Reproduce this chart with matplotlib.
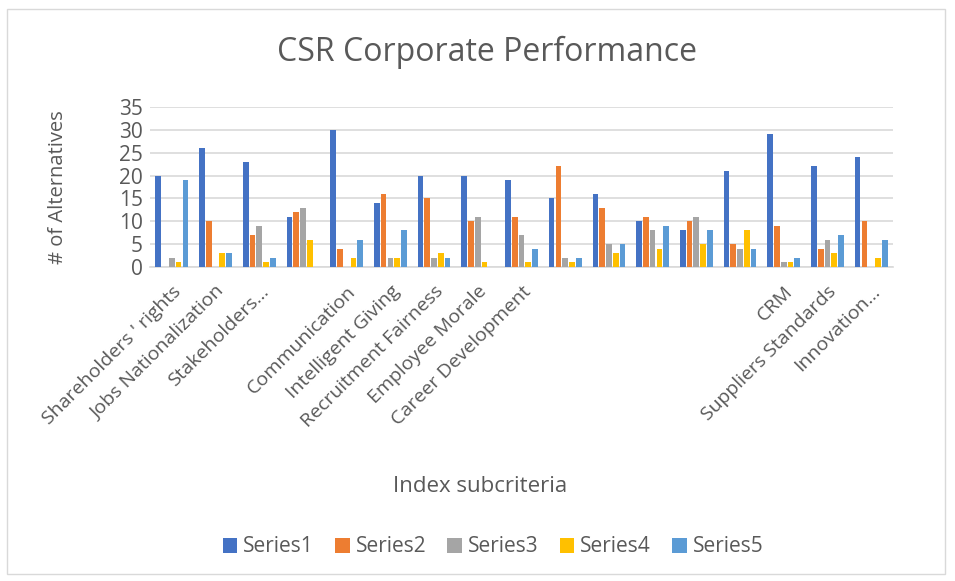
import numpy as np
import matplotlib.pyplot as plt
from matplotlib.patches import Rectangle

plt.rcParams['font.family'] = ['Open Sans', 'DejaVu Sans']

# categories (several have empty names in the source chart)
categories = ["Shareholders ' rights", "Jobs Nationalization", "Stakeholders...", "",
              "Communication", "Intelligent Giving", "Recruitment Fairness",
              "Employee Morale", "Career Development", "", "", "", "", "",
              "CRM", "Suppliers Standards", "Innovation..."]

series1 = [20, 26, 23, 11, 30, 14, 20, 20, 19, 15, 16, 10, 8, 21, 29, 22, 24]
series2 = [0, 10, 7, 12, 4, 16, 15, 10, 11, 22, 13, 11, 10, 5, 9, 4, 10]
series3 = [2, 0, 9, 13, 0, 2, 2, 11, 7, 2, 5, 8, 11, 4, 1, 6, 0]
series4 = [1, 3, 1, 6, 2, 2, 3, 1, 1, 1, 3, 4, 5, 8, 1, 3, 2]
series5 = [19, 3, 2, 0, 6, 8, 2, 0, 4, 2, 5, 9, 8, 4, 2, 7, 6]

series_names = ["Series1", "Series2", "Series3", "Series4", "Series5"]
colors = ["#4472C4", "#ED7D31", "#A5A5A5", "#FFC000", "#5B9BD5"]
text_color = "#595959"

fig = plt.figure(figsize=(9.55, 5.81), dpi=100)
W, H = 955, 581
ax = fig.add_axes([150 / W, 1 - 267 / H, (893 - 150) / W, (267 - 107) / H])

# chart border
fig.patches.append(Rectangle((7 / W, 1 - 574 / H), 938 / W, 565 / H,
                             transform=fig.transFigure, fill=False,
                             edgecolor="#d9d9d9", linewidth=1))

x = np.arange(len(categories))
step = 0.155
width = 0.13
all_series = [series1, series2, series3, series4, series5]
for i, vals in enumerate(all_series):
    ax.bar(x + (i - 2) * step, vals, width, color=colors[i], label=series_names[i],
           zorder=3)

ax.set_xlim(-0.5, len(categories) - 0.5)
ax.set_ylim(0, 35)
ax.set_yticks(range(0, 36, 5))
ax.grid(axis="y", color="#d9d9d9", linewidth=1.2, zorder=0)
for s in ["top", "right", "left"]:
    ax.spines[s].set_visible(False)
ax.spines["bottom"].set_color("#d9d9d9")
ax.spines["bottom"].set_linewidth(1.2)
ax.tick_params(axis="both", length=0, colors=text_color)
ax.tick_params(axis="y", pad=5, labelsize=15)

ax.set_xticks(x)
ax.set_xticklabels(categories, rotation=45, ha="right", rotation_mode="anchor",
                   fontsize=14, color=text_color)
ax.tick_params(axis="x", pad=11)

ax.set_ylabel("# of Alternatives", fontsize=14.5, color=text_color)
ax.yaxis.set_label_coords((68 - 150) / 743, 0.5)

fig.text(487 / W, 1 - 52 / H, "CSR Corporate Performance", ha="center", va="center",
         fontsize=23, color=text_color)
fig.text(480 / W, 1 - 487 / H, "Index subcriteria", ha="center", va="center",
         fontsize=16, color=text_color)

fig.legend(loc="center", bbox_to_anchor=(493 / W, 1 - 547 / H), ncol=5, frameon=False,
           fontsize=15, labelcolor=text_color, handlelength=0.7, handleheight=0.7,
           handletextpad=0.3, columnspacing=1.0)

plt.savefig("out.png", dpi=100)
